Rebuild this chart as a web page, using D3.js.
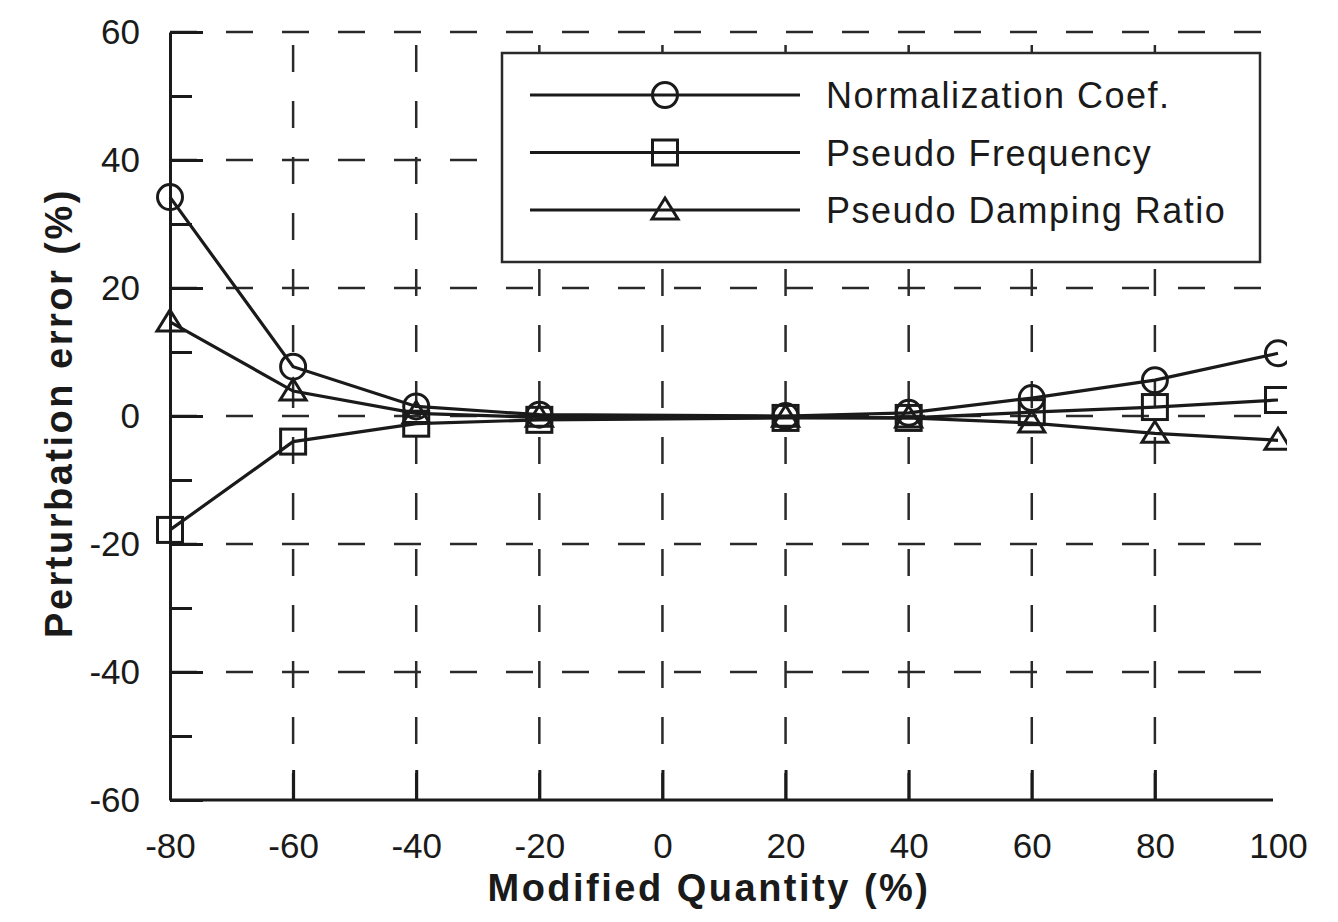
<!DOCTYPE html>
<html>
<meta charset="utf-8">
<style>
    body { margin: 0; background: #fff; }
    svg { font-family: "Liberation Sans", Arial, sans-serif; }
    .axis path, .axis line { fill: none; stroke: #1a1a1a; stroke-width: 3; }
    .axis text { font-size: 35px; fill: #1a1a1a; }
</style>
<body>
<script src="https://d3js.org/d3.v7.min.js"></script>
<script>

    // modified quantity (%) -- no point at 0
    var quantity = [-80, -60, -40, -20, 20, 40, 60, 80, 100];
    var normCoef = [34.2, 7.7, 1.5, 0.2, 0.0, 0.5, 2.8, 5.6, 9.8];
    var pseudoFreq = [-17.8, -4.0, -1.2, -0.6, -0.3, -0.3, 0.6, 1.4, 2.5];
    var pseudoDamp = [14.7, 3.9, 0.4, -0.2, -0.2, -0.3, -1.1, -2.7, -3.8];

    var seriesNames = ["Normalization Coef.", "Pseudo Frequency", "Pseudo Damping Ratio"];
    var seriesMarks = ["circle", "square", "triangle"];

    var xTicks = [-80, -60, -40, -20, 0, 20, 40, 60, 80, 100];
    var yTicks = [-60, -40, -20, 0, 20, 40, 60];
    var yMinor = [-50, -30, -10, 10, 30, 50];

    var width = 1338, height = 922;
    var ink = "#1a1a1a";

    var x = d3.scaleLinear().domain([-80, 100]).range([170, 1278]);
    var y = d3.scaleLinear().domain([-60, 60]).range([800, 32]);

    // plain hyphen for negatives, like the original
    var fmt = function(d) { return String(d); };

    var svg = d3.select("body")
        .append("svg")
        .attr("width", width)
        .attr("height", height);

    svg.append("defs").append("clipPath")
        .attr("id", "plotclip")
        .append("rect")
        .attr("x", 0).attr("y", 0)
        .attr("width", x(100) + 9).attr("height", height);

    // dashed grid
    svg.append("g").selectAll("line")
        .data(yTicks.filter(function(d) { return d > -60; }))
        .enter().append("line")
        .attr("x1", x(-80)).attr("x2", x(100) - 10)
        .attr("y1", function(d) { return y(d); })
        .attr("y2", function(d) { return y(d); })
        .attr("stroke", "#2a2a2a")
        .attr("stroke-width", 2.5)
        .attr("stroke-dasharray", "27,29");

    svg.append("g").selectAll("line")
        .data(xTicks.filter(function(d) { return d > -80 && d < 100; }))
        .enter().append("line")
        .attr("x1", function(d) { return x(d); })
        .attr("x2", function(d) { return x(d); })
        .attr("y1", y(-60)).attr("y2", y(60))
        .attr("stroke", "#2a2a2a")
        .attr("stroke-width", 2.5)
        .attr("stroke-dasharray", "27,29");

    // axes, ticks pointing inward
    var xAxisG = svg.append("g")
        .attr("class", "axis")
        .attr("transform", "translate(0," + y(-60) + ")")
        .call(d3.axisBottom(x).tickValues(xTicks).tickFormat(fmt).tickSize(-30).tickSizeOuter(0).tickPadding(33));
    xAxisG.select(".domain").attr("d", "M" + x(-80) + ",0H" + (x(100) - 5));
    xAxisG.selectAll(".tick").filter(function(d) { return d == 100; }).select("line").remove();

    svg.append("g")
        .attr("class", "axis")
        .attr("transform", "translate(" + x(-80) + ",0)")
        .call(d3.axisLeft(y).tickValues(yMinor).tickSize(-22).tickSizeOuter(0).tickFormat(""))
        .select(".domain").remove();

    svg.append("g")
        .attr("class", "axis")
        .attr("transform", "translate(" + x(-80) + ",0)")
        .call(d3.axisLeft(y).tickValues(yTicks).tickFormat(fmt).tickSize(-33).tickSizeOuter(0).tickPadding(30));

    svg.selectAll(".axis text").attr("fill", ink);

    // axis titles
    svg.append("text")
        .attr("x", 709).attr("y", 901)
        .attr("text-anchor", "middle")
        .style("font-size", "38px").style("font-weight", "bold")
        .style("letter-spacing", "2.5px")
        .attr("fill", ink)
        .text("Modified Quantity (%)");

    svg.append("text")
        .attr("transform", "translate(72," + 413 + ") rotate(-90)")
        .attr("text-anchor", "middle")
        .style("font-size", "38px").style("font-weight", "bold")
        .style("letter-spacing", "2.5px")
        .attr("fill", ink)
        .text("Perturbation error (%)");

    function drawMark(g, kind) {
        if (kind == "circle") {
            g.append("circle").attr("r", 12.5);
        } else if (kind == "square") {
            g.append("rect").attr("x", -12.5).attr("y", -12.5).attr("width", 25).attr("height", 25);
        } else {
            g.append("path").attr("d", "M0,-12L13,9L-13,9Z");
        }
    }

    var series = [normCoef, pseudoFreq, pseudoDamp];

    var line = d3.line()
        .x(function(d) { return x(d[0]); })
        .y(function(d) { return y(d[1]); });

    var plot = svg.append("g").attr("clip-path", "url(#plotclip)");

    series.forEach(function(vals, i) {
        var pts = quantity.map(function(q, j) { return [q, vals[j]]; });
        plot.append("path")
            .datum(pts)
            .attr("d", line)
            .attr("fill", "none")
            .attr("stroke", ink)
            .attr("stroke-width", 3.2);

        plot.append("g").selectAll("g")
            .data(pts)
            .enter().append("g")
            .attr("transform", function(d) { return "translate(" + x(d[0]) + "," + y(d[1]) + ")"; })
            .attr("fill", "none")
            .attr("stroke", ink)
            .attr("stroke-width", 3)
            .each(function() { drawMark(d3.select(this), seriesMarks[i]); });
    });

    // legend
    var legend = svg.append("g");
    legend.append("rect")
        .attr("x", 502).attr("y", 53)
        .attr("width", 758).attr("height", 209)
        .attr("fill", "#fff")
        .attr("stroke", "#2a2a2a")
        .attr("stroke-width", 2.5);

    seriesNames.forEach(function(name, i) {
        var ry = 95 + i * 57.5;
        var row = legend.append("g").attr("transform", "translate(0," + ry + ")");
        row.append("line")
            .attr("x1", 530).attr("x2", 800)
            .attr("stroke", ink).attr("stroke-width", 3);
        var m = row.append("g")
            .attr("transform", "translate(665,0)")
            .attr("fill", "none").attr("stroke", ink).attr("stroke-width", 3);
        drawMark(m, seriesMarks[i]);
        row.append("text")
            .attr("x", 826).attr("y", 13)
            .style("font-size", "36px")
            .style("letter-spacing", "1.5px")
            .attr("fill", ink)
            .text(name);
    });

</script>
</html>
